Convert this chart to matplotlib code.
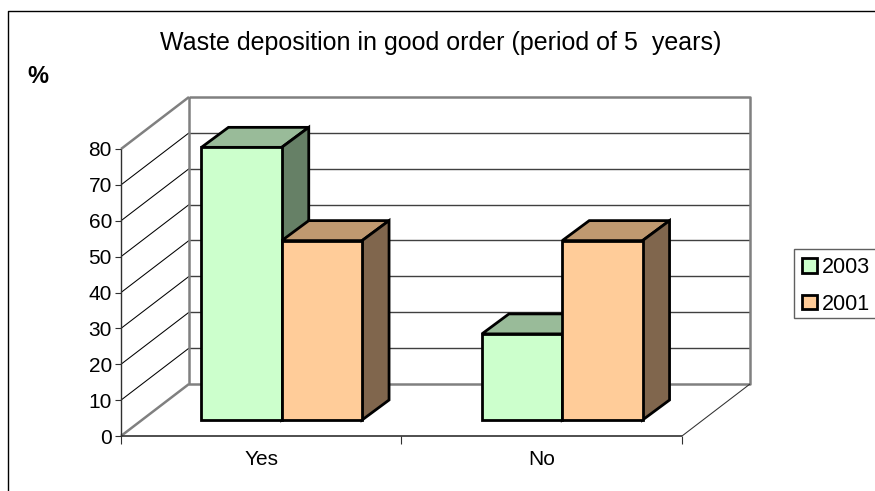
import matplotlib
matplotlib.use("Agg")
import matplotlib.pyplot as plt
from matplotlib.patches import Polygon, Patch, Rectangle

plt.rcParams['font.family'] = ['Liberation Sans', 'DejaVu Sans']

# Dados do grafico
categorias = ["Yes", "No"]
anos = ["2003", "2001"]
valores_2003 = [76, 24]
valores_2001 = [50, 50]
ticks_y = [0, 10, 20, 30, 40, 50, 60, 70, 80]

cor_2003 = "#CCFFCC"
cor_2001 = "#FFCC99"
cor_2003_topo = "#99BB99"
cor_2001_topo = "#BF9970"
cor_2003_lado = "#668066"
cor_2001_lado = "#80664D"

L, A = 875, 491

fig = plt.figure(figsize=(L / 100, A / 100), dpi=100)
# eixo no plano frontal do grafico 3D
ax = fig.add_axes([121 / L, 1 - 436 / A, (682 - 121) / L, (436 - 149) / A])
ax.set_xlim(0, 2)
ax.set_ylim(0, 80)
ax.patch.set_visible(False)
for lado in ax.spines.values():
	lado.set_visible(False)

# profundidade em unidades de dados
prof_x = 68 / 280.5
prof_y = 52 / 3.5875

# moldura externa
fig.add_artist(plt.Line2D([8 / L, 8 / L, 1], [0, 1 - 11 / A, 1 - 11 / A], color="black", lw=1))

def linha(xs, ys, cor, lw, z=1):
	ax.plot(xs, ys, color=cor, lw=lw, clip_on=False, zorder=z, solid_capstyle="butt")

# linhas de grade: parede lateral e parede do fundo
for t in ticks_y[1:-1]:
	linha([0, prof_x], [t, t + prof_y], "black", 0.75)
	linha([prof_x, 2 + prof_x], [t + prof_y, t + prof_y], "#404040", 1)

# paredes
cinza = "#808080"
linha([prof_x, 2 + prof_x, 2 + prof_x, prof_x, prof_x], [80 + prof_y, 80 + prof_y, prof_y, prof_y, 80 + prof_y], cinza, 1.8)
linha([0, prof_x], [80, 80 + prof_y], cinza, 1.8)
linha([0, prof_x], [0, prof_y], cinza, 1.8)
linha([2, 2 + prof_x], [0, prof_y], "#303030", 0.75)
linha([0, 0], [0, 80], "#303030", 1, 2)
linha([0, 2], [0, 0], "#303030", 1.2, 2)

# barras
largura = 80.3 / 280.5
base_x = prof_x * 20.5 / 68
base_y = prof_y * 16 / 52
fundo_x = prof_x * 27 / 68
fundo_y = prof_y * 20 / 52

def barra(x, v, frente, topo, lado, z):
	xe = x + base_x
	xd = xe + largura
	b = base_y
	t = base_y + v
	ax.add_patch(Polygon([(xe, t), (xd, t), (xd + fundo_x, t + fundo_y), (xe + fundo_x, t + fundo_y)],
		facecolor=topo, edgecolor="black", lw=2, joinstyle="miter", clip_on=False, zorder=z))
	ax.add_patch(Polygon([(xd, b), (xd + fundo_x, b + fundo_y), (xd + fundo_x, t + fundo_y), (xd, t)],
		facecolor=lado, edgecolor="black", lw=2, joinstyle="miter", clip_on=False, zorder=z))
	ax.bar(xe, v, largura, bottom=b, align="edge", color=frente, edgecolor="black", lw=2, clip_on=False, zorder=z + 0.1)

for i in range(len(categorias)):
	centro = i + 0.5
	barra(centro - largura, valores_2003[i], cor_2003, cor_2003_topo, cor_2003_lado, 3 + i)
	barra(centro, valores_2001[i], cor_2001, cor_2001_topo, cor_2001_lado, 3.5 + i)

ax.set_yticks(ticks_y)
ax.set_xticks([0, 1, 2])
ax.set_xticks([0.5, 1.5], minor=True)
ax.set_xticklabels([])
ax.set_xticklabels(categorias, minor=True)
ax.tick_params(axis="y", length=4.5, width=0.8, color="#303030", labelsize=15, pad=2)
ax.tick_params(axis="x", which="major", length=6, width=0.8, color="#303030")
ax.tick_params(axis="x", which="minor", length=0, labelsize=15, pad=10)

fig.text(441 / L, 1 - 43 / A, "Waste deposition in good order (period of 5  years)", fontsize=18,
	ha="center", va="center")
fig.text(38 / L, 1 - 77 / A, "%", fontsize=17, fontweight="bold", ha="center", va="center")

# legenda com moldura separada
fig.add_artist(Rectangle((794 / L, 1 - 318 / A), 90 / L, 69 / A, facecolor="white", edgecolor="#606060", lw=1,
	transform=fig.transFigure))
alcas = [Patch(facecolor=cor_2003, edgecolor="black", lw=2), Patch(facecolor=cor_2001, edgecolor="black", lw=2)]
leg = fig.legend(alcas, anos, loc="upper left", bbox_to_anchor=(802 / L, 1 - 257 / A), fontsize=15.5,
	frameon=False, borderaxespad=0, borderpad=0,
	handlelength=0.68, handleheight=0.68, handletextpad=0.24, labelspacing=0.72)
leg.set_zorder(5)

fig.savefig("out.png", dpi=100)
